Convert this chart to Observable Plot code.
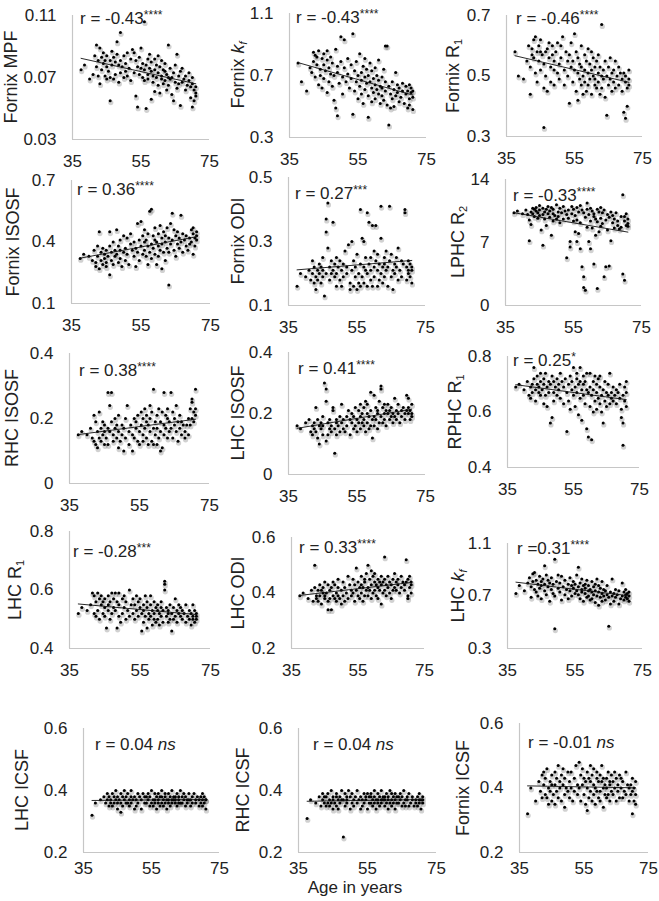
<!DOCTYPE html>
<html><head><meta charset="utf-8">
<script src="https://cdn.jsdelivr.net/npm/d3@7"></script>
<script src="https://cdn.jsdelivr.net/npm/@observablehq/plot@0.6"></script>
<style>
html,body{margin:0;padding:0;background:#fff;}
#wrap{position:relative;width:659px;height:901px;overflow:hidden;font-family:"Liberation Sans",Arial,sans-serif;color:#222;}
.ttl{position:absolute;white-space:nowrap;font-size:18px;transform:translate(-50%,-50%) rotate(-90deg);}
.ttl sub{font-size:11px;vertical-align:-3px;}
.rt{position:absolute;white-space:nowrap;font-size:17px;line-height:20px;}
.rt sup{font-size:12px;vertical-align:5px;}
.xl{position:absolute;white-space:nowrap;font-size:17px;transform:translate(-50%,-50%);}
</style></head><body><div id="wrap"></div>
<script>
// ---- data: shared subject ages ----
const ages = [
37.5,38.5,40,41,41.5,42,42,42.5,42.5,43,
43,43.5,43.5,44,44,44.5,44.5,45,45,45,
45.5,46,46,46,46.5,46.5,47,47,47.5,47.5,
48,48,48.5,48.5,49,49,49,49.5,50,50,
50.5,50.5,51,51,51.5,52,52,52.5,53,53,
53.5,53.5,54,54,54.5,54.5,55,55,55.5,55.5,
56,56,56,56.5,56.5,57,57,57,57.5,57.5,
58,58,58,58.5,58.5,59,59,59,59.5,59.5,
60,60,60,60.5,60.5,61,61,61,61.5,61.5,
62,62,62,62.5,62.5,63,63,63,63.5,63.5,
64,64,64.5,64.5,65,65,65.5,65.5,66,66,
66.5,66.5,67,67,67.5,68,68,68.5,69,69,
69.5,69.5,70,70,70,70.5,70.5,71,71,71];

const fornixMPF = [
0.075,0.078,0.069,0.072,0.084,0.091,0.077,0.081,0.071,0.089,
0.066,0.083,0.075,0.086,0.079,0.071,0.081,0.077,0.069,0.084,
0.074,0.055,0.081,0.070,0.087,0.078,0.083,0.069,0.072,0.080,
0.093,0.085,0.067,0.078,0.099,0.081,0.073,0.077,0.084,0.070,
0.074,0.079,0.086,0.071,0.076,0.082,0.068,0.088,0.086,0.073,
0.081,0.058,0.077,0.051,0.083,0.072,0.089,0.076,0.079,0.070,
0.106,0.075,0.068,0.050,0.078,0.082,0.072,0.069,0.085,0.076,
0.056,0.074,0.080,0.067,0.071,0.061,0.082,0.075,0.070,0.078,
0.084,0.065,0.073,0.060,0.077,0.069,0.081,0.071,0.066,0.075,
0.074,0.068,0.079,0.062,0.072,0.091,0.070,0.065,0.076,0.069,
0.059,0.070,0.055,0.073,0.067,0.078,0.063,0.085,0.071,0.066,
0.052,0.074,0.076,0.067,0.069,0.062,0.071,0.065,0.073,0.068,
0.057,0.064,0.051,0.070,0.066,0.062,0.055,0.060,0.058,0.064];

const fornixKf = [
0.78,0.66,0.60,0.75,0.72,0.85,0.79,0.83,0.69,0.77,
0.82,0.64,0.86,0.74,0.70,0.81,0.62,0.77,0.84,0.68,
0.73,0.80,0.59,0.86,0.75,0.66,0.71,0.82,0.63,0.78,
0.54,0.70,0.49,0.87,0.44,0.72,0.76,0.65,0.95,0.79,
0.69,0.58,0.75,0.93,0.66,0.81,0.71,0.62,0.77,0.68,
0.97,0.45,0.73,0.60,0.79,0.66,0.55,0.70,0.84,0.63,
0.72,0.58,0.67,0.76,0.52,0.69,0.81,0.61,0.74,0.65,
0.43,0.70,0.57,0.66,0.78,0.62,0.53,0.73,0.68,0.59,
0.75,0.64,0.55,0.70,0.61,0.80,0.58,0.67,0.52,0.63,
0.69,0.57,0.62,0.74,0.54,0.89,0.66,0.60,0.89,0.51,
0.38,0.63,0.58,0.49,0.66,0.55,0.61,0.50,0.72,0.57,
0.64,0.59,0.53,0.62,0.56,0.65,0.60,0.52,0.58,0.63,
0.49,0.60,0.55,0.64,0.51,0.59,0.62,0.48,0.56,0.60];

const fornixR1 = [
0.58,0.50,0.49,0.55,0.60,0.44,0.53,0.59,0.57,0.62,
0.56,0.51,0.63,0.58,0.48,0.60,0.55,0.52,0.58,0.62,
0.57,0.33,0.46,0.54,0.58,0.50,0.59,0.45,0.56,0.61,
0.53,0.48,0.57,0.60,0.52,0.55,0.47,0.58,0.51,0.61,
0.54,0.49,0.60,0.56,0.63,0.52,0.47,0.58,0.55,0.50,
0.41,0.57,0.53,0.61,0.48,0.55,0.64,0.52,0.45,0.58,
0.51,0.42,0.56,0.49,0.54,0.60,0.47,0.53,0.50,0.44,
0.57,0.52,0.48,0.55,0.45,0.59,0.51,0.47,0.54,0.49,
0.58,0.44,0.52,0.50,0.56,0.47,0.53,0.49,0.55,0.46,
0.51,0.57,0.48,0.53,0.44,0.50,0.67,0.46,0.52,0.49,
0.43,0.55,0.37,0.50,0.47,0.53,0.49,0.56,0.45,0.51,
0.48,0.52,0.46,0.55,0.50,0.53,0.47,0.51,0.45,0.49,
0.38,0.51,0.36,0.48,0.50,0.40,0.46,0.52,0.49,0.47];

const fornixISOSF = [
0.32,0.34,0.33,0.31,0.36,0.30,0.28,0.38,0.33,0.45,
0.27,0.35,0.31,0.37,0.29,0.34,0.32,0.36,0.30,0.28,
0.33,0.24,0.38,0.45,0.35,0.31,0.29,0.40,0.36,0.33,
0.46,0.34,0.30,0.38,0.32,0.41,0.36,0.28,0.43,0.35,
0.37,0.31,0.42,0.34,0.29,0.39,0.44,0.36,0.33,0.40,
0.28,0.37,0.49,0.35,0.41,0.31,0.50,0.38,0.34,0.43,
0.40,0.36,0.46,0.33,0.41,0.38,0.29,0.44,0.35,0.55,
0.56,0.39,0.32,0.43,0.37,0.47,0.34,0.41,0.29,0.40,
0.38,0.44,0.33,0.48,0.36,0.42,0.27,0.39,0.45,0.35,
0.43,0.31,0.40,0.47,0.37,0.19,0.42,0.35,0.49,0.39,
0.54,0.41,0.36,0.46,0.33,0.43,0.39,0.45,0.37,0.42,
0.53,0.40,0.35,0.44,0.41,0.38,0.43,0.36,0.42,0.39,
0.46,0.40,0.44,0.34,0.47,0.42,0.38,0.45,0.41,0.43];

const fornixODI = [
0.16,0.20,0.19,0.21,0.18,0.24,0.20,0.17,0.22,0.19,
0.15,0.21,0.18,0.23,0.20,0.17,0.22,0.19,0.25,0.21,
0.13,0.20,0.33,0.37,0.42,0.28,0.22,0.18,0.24,0.20,
0.36,0.21,0.19,0.23,0.16,0.25,0.20,0.22,0.18,0.24,
0.21,0.16,0.19,0.23,0.27,0.20,0.22,0.29,0.17,0.15,
0.30,0.21,0.16,0.24,0.19,0.22,0.15,0.26,0.20,0.17,
0.40,0.23,0.16,0.31,0.19,0.22,0.30,0.17,0.21,0.25,
0.39,0.20,0.16,0.36,0.23,0.18,0.25,0.21,0.35,0.16,
0.22,0.27,0.19,0.24,0.35,0.16,0.21,0.26,0.18,0.23,
0.41,0.20,0.31,0.22,0.17,0.25,0.19,0.23,0.27,0.21,
0.22,0.16,0.41,0.24,0.19,0.26,0.21,0.15,0.23,0.20,
0.25,0.22,0.18,0.28,0.21,0.24,0.19,0.23,0.40,0.39,
0.22,0.18,0.21,0.24,0.20,0.23,0.19,0.22,0.21,0.17];

const lphcR2 = [
10.3,10.5,10.2,10.6,10.1,7.2,9.5,10.4,9.0,10.8,
10.2,10.7,9.9,10.5,10.9,10.3,9.7,11.1,10.0,10.6,
8.4,10.8,6.7,10.1,9.6,10.4,8.9,10.7,11.0,10.2,
9.8,10.5,7.8,10.9,10.2,9.4,10.7,10.0,11.2,9.6,
10.4,9.9,10.8,9.2,10.3,11.0,9.6,10.5,5.3,10.1,
9.7,10.6,7.1,6.5,10.2,11.0,9.4,10.7,8.2,10.0,
7.1,10.9,9.5,8.0,10.4,6.3,11.1,9.2,4.3,10.6,
3.2,10.3,2.0,1.7,9.8,11.4,10.7,8.7,7.1,10.1,
6.3,10.8,9.4,10.5,8.6,9.9,4.6,10.2,7.8,9.6,
10.7,1.9,9.3,10.4,8.2,9.7,10.9,8.8,10.3,9.1,
3.2,10.6,9.5,4.3,10.1,8.4,4.4,9.8,7.2,10.4,
9.2,10.0,8.6,9.6,10.3,8.9,9.4,8.5,9.9,8.7,
12.3,3.5,2.8,9.4,9.9,8.9,10.2,9.6,8.8,9.1];

const rhcISOSF = [
0.15,0.16,0.15,0.17,0.14,0.21,0.13,0.12,0.19,0.16,
0.11,0.14,0.22,0.17,0.13,0.15,0.19,0.12,0.16,0.18,
0.14,0.28,0.17,0.12,0.24,0.16,0.28,0.19,0.13,0.15,
0.20,0.17,0.14,0.18,0.11,0.16,0.21,0.13,0.18,0.15,
0.17,0.10,0.20,0.14,0.24,0.16,0.12,0.18,0.15,0.10,
0.20,0.14,0.17,0.19,0.13,0.21,0.16,0.12,0.18,0.22,
0.15,0.20,0.13,0.23,0.17,0.19,0.14,0.21,0.12,0.18,
0.24,0.16,0.20,0.13,0.22,0.29,0.17,0.12,0.19,0.15,
0.21,0.12,0.17,0.23,0.14,0.10,0.19,0.16,0.22,0.11,
0.28,0.18,0.15,0.21,0.17,0.23,0.14,0.20,0.16,0.19,
0.28,0.17,0.22,0.14,0.20,0.18,0.24,0.16,0.19,0.13,
0.21,0.17,0.15,0.19,0.18,0.14,0.16,0.18,0.20,0.15,
0.23,0.18,0.26,0.25,0.20,0.22,0.19,0.29,0.23,0.21];

const lhcISOSF = [
0.16,0.15,0.17,0.18,0.14,0.16,0.13,0.17,0.15,0.22,
0.14,0.18,0.12,0.16,0.10,0.17,0.15,0.19,0.13,0.16,
0.30,0.28,0.24,0.11,0.13,0.17,0.15,0.18,0.14,0.16,
0.22,0.21,0.07,0.15,0.18,0.13,0.17,0.16,0.19,0.14,
0.23,0.17,0.15,0.18,0.14,0.19,0.16,0.21,0.13,0.18,
0.17,0.20,0.15,0.19,0.22,0.16,0.18,0.14,0.21,0.17,
0.19,0.15,0.23,0.17,0.20,0.16,0.22,0.18,0.14,0.24,
0.20,0.17,0.23,0.15,0.19,0.27,0.16,0.21,0.18,0.12,
0.26,0.19,0.16,0.22,0.18,0.20,0.15,0.21,0.17,0.24,
0.28,0.29,0.19,0.22,0.17,0.20,0.23,0.18,0.21,0.16,
0.20,0.23,0.18,0.21,0.19,0.22,0.17,0.20,0.25,0.19,
0.21,0.18,0.20,0.23,0.17,0.21,0.19,0.22,0.20,0.18,
0.26,0.21,0.25,0.20,0.22,0.18,0.21,0.19,0.23,0.20];

const rphcR1 = [
0.69,0.70,0.68,0.71,0.66,0.69,0.65,0.70,0.67,0.72,
0.76,0.68,0.64,0.70,0.73,0.67,0.69,0.71,0.66,0.74,
0.68,0.72,0.63,0.70,0.66,0.74,0.69,0.62,0.71,0.67,
0.56,0.70,0.58,0.73,0.67,0.71,0.64,0.69,0.72,0.66,
0.70,0.68,0.74,0.65,0.71,0.63,0.69,0.72,0.53,0.67,
0.70,0.64,0.73,0.61,0.68,0.71,0.76,0.66,0.69,0.62,
0.72,0.67,0.74,0.59,0.70,0.76,0.65,0.71,0.57,0.68,
0.73,0.66,0.70,0.63,0.71,0.68,0.54,0.74,0.51,0.67,
0.74,0.62,0.69,0.50,0.66,0.71,0.60,0.68,0.73,0.64,
0.70,0.67,0.61,0.72,0.65,0.69,0.63,0.73,0.66,0.60,
0.56,0.68,0.71,0.64,0.67,0.62,0.70,0.66,0.74,0.63,
0.67,0.65,0.69,0.64,0.66,0.68,0.63,0.67,0.65,0.70,
0.61,0.58,0.48,0.66,0.56,0.64,0.69,0.62,0.67,0.71];

const lhcR1 = [
0.52,0.54,0.53,0.55,0.59,0.58,0.52,0.56,0.51,0.59,
0.53,0.57,0.50,0.55,0.58,0.52,0.56,0.54,0.51,0.57,
0.47,0.55,0.53,0.58,0.50,0.56,0.52,0.59,0.54,0.57,
0.59,0.53,0.47,0.56,0.51,0.59,0.55,0.49,0.57,0.52,
0.54,0.58,0.50,0.56,0.53,0.60,0.51,0.55,0.57,0.52,
0.55,0.50,0.58,0.53,0.56,0.51,0.54,0.57,0.46,0.52,
0.55,0.49,0.53,0.58,0.51,0.54,0.47,0.56,0.52,0.50,
0.55,0.51,0.58,0.48,0.53,0.50,0.56,0.52,0.54,0.49,
0.53,0.50,0.55,0.48,0.52,0.54,0.51,0.56,0.49,0.53,
0.63,0.60,0.62,0.51,0.54,0.49,0.53,0.52,0.50,0.55,
0.52,0.46,0.54,0.50,0.57,0.51,0.53,0.49,0.55,0.52,
0.51,0.54,0.50,0.53,0.52,0.49,0.55,0.51,0.53,0.50,
0.48,0.52,0.51,0.55,0.50,0.53,0.49,0.52,0.51,0.50];

const lhcODI = [
0.39,0.40,0.38,0.41,0.37,0.50,0.42,0.39,0.38,0.41,
0.37,0.43,0.39,0.41,0.36,0.40,0.42,0.38,0.44,0.39,
0.40,0.37,0.43,0.34,0.41,0.38,0.34,0.42,0.39,0.44,
0.38,0.43,0.40,0.37,0.42,0.39,0.45,0.38,0.41,0.36,
0.44,0.39,0.42,0.37,0.40,0.46,0.38,0.43,0.41,0.39,
0.45,0.40,0.37,0.43,0.41,0.49,0.39,0.44,0.38,0.42,
0.46,0.40,0.43,0.37,0.42,0.45,0.39,0.44,0.41,0.47,
0.50,0.42,0.39,0.45,0.41,0.48,0.38,0.43,0.40,0.46,
0.44,0.41,0.47,0.39,0.43,0.42,0.45,0.38,0.44,0.41,
0.36,0.43,0.46,0.40,0.44,0.53,0.41,0.45,0.39,0.43,
0.42,0.46,0.40,0.44,0.38,0.43,0.45,0.41,0.47,0.42,
0.44,0.41,0.45,0.43,0.40,0.46,0.42,0.44,0.41,0.43,
0.52,0.44,0.39,0.38,0.45,0.42,0.46,0.43,0.44,0.40];

const lhcKf = [
0.72,0.78,0.74,0.80,0.84,0.77,0.69,0.87,0.81,0.75,
0.88,0.73,0.82,0.79,0.70,0.85,0.76,0.81,0.68,0.78,
0.83,0.74,0.93,0.79,0.71,0.86,0.77,0.82,0.66,0.80,
0.75,0.84,0.72,0.79,0.98,0.45,0.70,0.81,0.76,0.86,
0.73,0.80,0.67,0.85,0.77,0.71,0.82,0.75,0.79,0.68,
0.84,0.74,0.78,0.70,0.81,0.76,0.72,0.79,0.86,0.74,
0.92,0.77,0.71,0.80,0.68,0.75,0.83,0.73,0.78,0.66,
0.79,0.72,0.76,0.69,0.82,0.74,0.70,0.78,0.67,0.75,
0.81,0.73,0.68,0.77,0.71,0.79,0.65,0.74,0.83,0.70,
0.78,0.63,0.73,0.76,0.69,0.81,0.72,0.66,0.75,0.70,
0.74,0.67,0.71,0.78,0.47,0.69,0.73,0.64,0.83,0.70,
0.72,0.66,0.75,0.69,0.71,0.64,0.74,0.68,0.80,0.70,
0.73,0.67,0.71,0.69,0.75,0.68,0.72,0.70,0.66,0.73];

const lhcICSF = [
0.32,0.36,0.37,0.38,0.36,0.39,0.37,0.35,0.38,0.36,
0.37,0.39,0.35,0.38,0.36,0.37,0.40,0.34,0.38,0.36,
0.37,0.33,0.39,0.36,0.38,0.35,0.37,0.40,0.36,0.38,
0.36,0.39,0.37,0.35,0.38,0.36,0.40,0.37,0.34,0.38,
0.37,0.35,0.39,0.36,0.38,0.37,0.34,0.39,0.36,0.38,
0.38,0.36,0.37,0.39,0.35,0.38,0.36,0.40,0.37,0.35,
0.37,0.39,0.36,0.38,0.34,0.37,0.39,0.36,0.38,0.35,
0.38,0.36,0.40,0.37,0.35,0.38,0.36,0.39,0.37,0.34,
0.37,0.39,0.36,0.38,0.35,0.37,0.40,0.36,0.38,0.37,
0.36,0.38,0.37,0.39,0.35,0.37,0.36,0.38,0.40,0.36,
0.38,0.36,0.37,0.39,0.35,0.38,0.37,0.36,0.39,0.37,
0.37,0.35,0.38,0.36,0.39,0.37,0.36,0.38,0.35,0.37,
0.36,0.38,0.37,0.35,0.39,0.36,0.38,0.37,0.34,0.37];

const rhcICSF = [
0.31,0.37,0.36,0.38,0.35,0.39,0.37,0.36,0.38,0.35,
0.38,0.36,0.39,0.35,0.37,0.40,0.36,0.38,0.34,0.37,
0.36,0.38,0.35,0.39,0.37,0.34,0.38,0.36,0.40,0.37,
0.25,0.37,0.39,0.35,0.38,0.36,0.37,0.40,0.34,0.38,
0.36,0.39,0.37,0.35,0.38,0.36,0.40,0.37,0.34,0.38,
0.37,0.35,0.39,0.36,0.38,0.37,0.34,0.39,0.36,0.38,
0.39,0.36,0.38,0.35,0.37,0.40,0.36,0.38,0.37,0.34,
0.37,0.39,0.36,0.38,0.35,0.37,0.40,0.36,0.38,0.37,
0.38,0.35,0.37,0.39,0.36,0.38,0.34,0.37,0.40,0.36,
0.37,0.39,0.35,0.38,0.36,0.37,0.39,0.34,0.38,0.36,
0.38,0.36,0.39,0.37,0.35,0.38,0.36,0.40,0.37,0.35,
0.37,0.38,0.35,0.39,0.36,0.37,0.38,0.35,0.37,0.36,
0.38,0.35,0.37,0.36,0.39,0.37,0.34,0.38,0.36,0.37];

const fornixICSF = [
0.32,0.40,0.36,0.42,0.39,0.44,0.37,0.41,0.45,0.38,
0.43,0.37,0.46,0.40,0.35,0.42,0.39,0.44,0.36,0.41,
0.38,0.45,0.41,0.35,0.43,0.39,0.47,0.37,0.42,0.40,
0.44,0.36,0.41,0.46,0.38,0.43,0.34,0.40,0.45,0.39,
0.42,0.37,0.45,0.40,0.36,0.43,0.39,0.47,0.41,0.38,
0.48,0.40,0.36,0.44,0.41,0.46,0.38,0.43,0.35,0.42,
0.33,0.45,0.40,0.37,0.43,0.47,0.39,0.42,0.36,0.44,
0.41,0.38,0.46,0.40,0.35,0.43,0.39,0.45,0.37,0.42,
0.44,0.39,0.36,0.42,0.47,0.40,0.34,0.43,0.38,0.41,
0.37,0.43,0.40,0.45,0.38,0.42,0.36,0.41,0.44,0.39,
0.42,0.38,0.45,0.40,0.36,0.43,0.39,0.41,0.37,0.44,
0.40,0.43,0.37,0.42,0.39,0.45,0.38,0.41,0.36,0.40,
0.41,0.38,0.32,0.43,0.39,0.40,0.36,0.42,0.38,0.35];

// ---- panel text and axes ----
const series = [fornixMPF, fornixKf, fornixR1, fornixISOSF, fornixODI, lphcR2, rhcISOSF, lhcISOSF, rphcR1, lhcR1, lhcODI, lhcKf, lhcICSF, rhcICSF, fornixICSF];
const titles = ["Fornix MPF","Fornix <i>k</i><sub><i>f</i></sub>","Fornix R<sub>1</sub>","Fornix ISOSF","Fornix ODI","LPHC R<sub>2</sub>","RHC ISOSF","LHC ISOSF","RPHC R<sub>1</sub>","LHC R<sub>1</sub>","LHC ODI","LHC <i>k</i><sub><i>f</i></sub>","LHC ICSF","RHC ICSF","Fornix ICSF"];
const rValues = ["r = -0.43","r = -0.43","r = -0.46","r = 0.36","r = 0.27","r = -0.33","r = 0.38","r = 0.41","r = 0.25","r = -0.28","r = 0.33","r =0.31","r = 0.04","r = 0.04","r = -0.01"];
const rSig = ["****","****","****","****","***","****","****","****","*","***","****","****","ns","ns","ns"];
const yTicks = [[0.03,0.07,0.11],[0.3,0.7,1.1],[0.3,0.5,0.7],[0.1,0.4,0.7],[0.1,0.3,0.5],[0,7,14],[0,0.2,0.4],[0,0.2,0.4],[0.4,0.6,0.8],[0.4,0.6,0.8],[0.2,0.4,0.6],[0.3,0.7,1.1],[0.2,0.4,0.6],[0.2,0.4,0.6],[0.2,0.4,0.6]];
const xTicks = [35,55,75];
const xTitle = "Age in years";

// ---- layout (pixel frames of each panel) ----
const frames = [
 {l:72,r:209,t:15,b:139,tx:11,rx:80,ry:15,xp:15},
 {l:289,r:426,t:13,b:137,tx:238,rx:296,ry:14,xp:15},
 {l:506,r:642,t:15,b:136,tx:453,rx:516,ry:15,xp:15},
 {l:71,r:210,t:180,b:303,tx:13,rx:77,ry:186,xp:15},
 {l:288,r:425,t:177,b:305,tx:238,rx:295,ry:190,xp:15},
 {l:505,r:641,t:179,b:305,tx:458,rx:513,ry:192,xp:15},
 {l:69,r:209,t:353,b:483,tx:12,rx:79,ry:367,xp:15},
 {l:288,r:425,t:352,b:474,tx:238,rx:298,ry:365,xp:15},
 {l:507,r:639,t:356,b:467,tx:455,rx:513,ry:357,xp:15},
 {l:69,r:210,t:531,b:648,tx:15,rx:73,ry:548,xp:15},
 {l:291,r:424,t:537,b:648,tx:238,rx:299,ry:544,xp:15},
 {l:507,r:642,t:543,b:648,tx:458,rx:517,ry:545,xp:15},
 {l:83,r:219,t:728,b:852,tx:22,rx:95,ry:745,xp:9},
 {l:298,r:436,t:728,b:852,tx:243,rx:313,ry:745,xp:9},
 {l:519,r:648,t:723,b:852,tx:463,rx:528,ry:743,xp:9}
];

const wrap = document.getElementById("wrap");
const ML = 60, MR = 24, MT = 12, MB = 36;
series.forEach((vals, i) => {
  const f = frames[i];
  const data = ages.map((a, k) => ({age: a, v: vals[k]}));
  const yt = yTicks[i];
  const svg = Plot.plot({
    width: (f.r - f.l) + ML + MR,
    height: (f.b - f.t) + MT + MB,
    marginLeft: ML, marginRight: MR, marginTop: MT, marginBottom: MB,
    style: {background: "transparent", fontFamily: "'Liberation Sans', Arial, sans-serif", fontSize: "17px", color: "#222", overflow: "visible"},
    x: {domain: [xTicks[0], xTicks[xTicks.length - 1]], ticks: xTicks, tickSize: 0, tickPadding: f.xp, tickFormat: d => String(d), label: null},
    y: {domain: [yt[0], yt[yt.length - 1]], ticks: yt, tickSize: 0, tickPadding: 16, tickFormat: d => String(d), label: null},
    marks: [
      Plot.ruleX([xTicks[0]], {stroke: "#c6c6c6", strokeWidth: 1.2}),
      Plot.ruleY([yt[0]], {stroke: "#c6c6c6", strokeWidth: 1.2}),
      Plot.dot(data, {x: "age", y: "v", r: 2.6, fill: "#000", fillOpacity: 0.18, dx: 0.6, dy: 1.8}),
      Plot.dot(data, {x: "age", y: "v", r: 1.5, fill: "#000"}),
      Plot.linearRegressionY(data, {x: "age", y: "v", stroke: "#111", strokeWidth: 0.9, ci: 0})
    ]
  });
  svg.style.position = "absolute";
  svg.style.left = (f.l - ML) + "px";
  svg.style.top = (f.t - MT) + "px";
  wrap.appendChild(svg);

  const t = document.createElement("div");
  t.className = "ttl";
  t.innerHTML = titles[i];
  t.style.left = f.tx + "px";
  t.style.top = ((f.t + f.b) / 2) + "px";
  wrap.appendChild(t);

  const r = document.createElement("div");
  r.className = "rt";
  const sig = rSig[i] === "ns" ? " <i>ns</i>" : "<sup>" + rSig[i] + "</sup>";
  r.innerHTML = rValues[i] + sig;
  r.style.left = f.rx + "px";
  r.style.top = (f.ry - 10) + "px";
  wrap.appendChild(r);
});
const xl = document.createElement("div");
xl.className = "xl";
xl.textContent = xTitle;
xl.style.left = "355px";
xl.style.top = "888px";
wrap.appendChild(xl);
</script></body></html>
